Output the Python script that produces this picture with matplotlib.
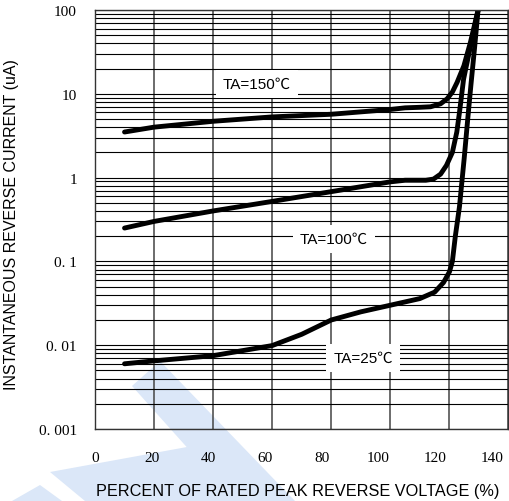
import matplotlib
matplotlib.use('Agg')
import matplotlib.pyplot as plt
from matplotlib.patches import Polygon
from matplotlib.transforms import blended_transform_factory
import numpy as np

# (percent of rated voltage, current in uA)
v_150 = [10, 20, 40, 60, 80, 100, 105, 110, 113.6, 117, 119.2, 121, 122.6, 124.9, 127.1, 129.7]
i_150 = [3.5, 4.0, 4.7, 5.3, 5.7, 6.5, 6.8, 6.9, 7.0, 7.6, 8.7, 10.5, 13.7, 21.6, 41, 100]

v_100 = [10, 20, 40, 60, 80, 100, 105, 112, 114.6, 117, 119, 121, 122.5, 123.4, 124.8, 126.5, 128, 129.7]
i_100 = [0.25, 0.30, 0.40, 0.52, 0.68, 0.89, 0.93, 0.93, 0.96, 1.1, 1.4, 2.0, 3.5, 6.0, 15, 29, 51, 100]

v_25 = [10, 20, 40, 60, 70, 80, 90, 100, 110, 115, 118, 120, 121, 122, 123.4, 125, 126.2, 127.3, 128.5, 129.7]
i_25 = [0.006, 0.0065, 0.0075, 0.0099, 0.0135, 0.020, 0.025, 0.030, 0.036, 0.043, 0.056, 0.075,
        0.1, 0.2, 0.45, 1.7, 5, 13, 35, 100]

labels = ['TA=150\u2103', 'TA=100\u2103', 'TA=25\u2103']
label_pos = [(257, 85), (334, 240), (363, 359)]  # pixel positions in the picture

x_ticks = [0, 20, 40, 60, 80, 100, 120, 140]
y_ticks = [0.001, 0.01, 0.1, 1, 10, 100]
y_tick_labels = ['0. 001', '0. 01', '0. 1', '1', '10', '100']

W, H = 509, 502
fig = plt.figure(figsize=(W / 100, H / 100), dpi=100)

# light blue watermark bands behind everything
wm = [
    [(132, 387), (160, 362), (295, 502), (235, 502)],
    [(50, 473), (187, 448), (262, 502), (85, 502)],
    [(12, 502), (40, 486), (62, 502)],
]
for poly in wm:
    pts = [(x / W, 1 - y / H) for x, y in poly]
    fig.patches.append(Polygon(pts, closed=True, transform=fig.transFigure,
                               facecolor='#dbe7f8', edgecolor='none', zorder=-5))

ax = fig.add_axes([95 / W, 1 - 430 / H, 413.5 / W, 419 / H])
ax.set_zorder(1)
ax.patch.set_alpha(0)
ax.set_yscale('log')
ax.set_xlim(0, 140)
ax.set_ylim(0.001, 100)

ax.grid(True, which='major', axis='y', color='black', lw=0.8)
ax.grid(True, which='minor', axis='y', color='black', lw=0.8)
ax.grid(True, which='major', axis='x', color='#444444', lw=1.1)
ax.set_axisbelow(True)

ax.plot(v_150, i_150, color='black', lw=3.5, solid_capstyle='round', solid_joinstyle='round')
ax.plot(v_100, i_100, color='black', lw=3.5, solid_capstyle='round', solid_joinstyle='round')
ax.plot(v_25, i_25, color='black', lw=3.5, solid_capstyle='round', solid_joinstyle='round')

for txt, (px, py) in zip(labels, label_pos):
    fig.text(px / W, 1 - py / H, txt, ha='center', va='center', fontsize=11,
             family=['Liberation Sans', 'Noto Sans CJK SC'], zorder=5,
             bbox=dict(facecolor='white', edgecolor='none', pad=5))

# x tick labels in the original drift left of their grid lines
ax.set_xticks(x_ticks)
ax.set_xticklabels([])
trans = blended_transform_factory(ax.transData, ax.transAxes)
for t in x_ticks:
    ax.text(t * 0.96, -0.068, str(t), transform=trans, ha='center', va='center',
            family='Liberation Serif', fontsize=11, clip_on=False)

ax.set_yticks(y_ticks)
ax.set_yticklabels(y_tick_labels, family='Liberation Serif', fontsize=11)
ax.yaxis.set_minor_formatter(matplotlib.ticker.NullFormatter())
ax.tick_params(which='both', length=0)
ax.tick_params(axis='y', pad=13)

for s in ax.spines.values():
    s.set_color('#333333')
    s.set_linewidth(1.0)

ax.set_xlabel('PERCENT OF RATED PEAK REVERSE VOLTAGE (%)', family='Liberation Sans', fontsize=11.7)
ax.set_ylabel('INSTANTANEOUS REVERSE CURRENT (uA)', family='Liberation Sans', fontsize=11.5)
ax.xaxis.set_label_coords(0.49, -0.13)
ax.yaxis.set_label_coords(-0.185, 0.49)

fig.savefig('out.png', dpi=100)
